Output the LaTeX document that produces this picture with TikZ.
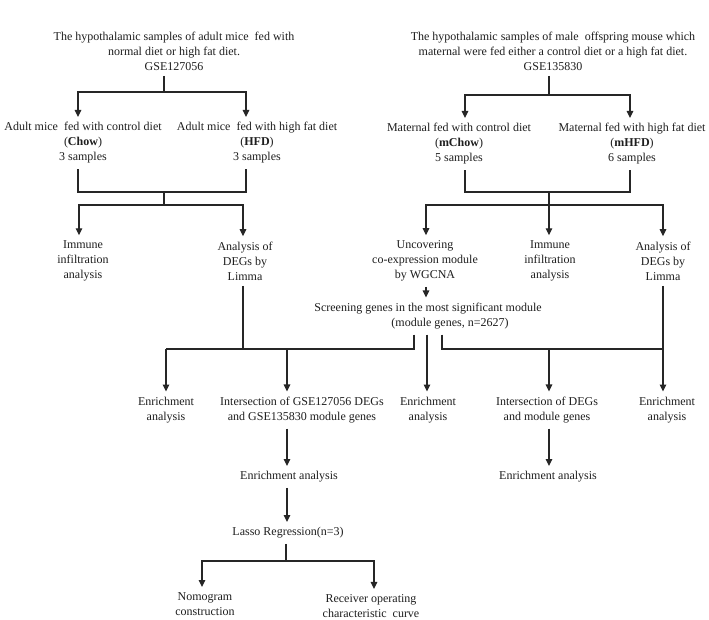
\documentclass[tikz,border=0pt]{standalone}
\usepackage{fontspec}
\setmainfont{Liberation Serif}
\usetikzlibrary{arrows.meta}
\begin{document}
\begin{tikzpicture}[x=1pt,y=-1pt,
  txt/.style={align=center, inner sep=0pt, outer ysep=5.5pt, font=\fontsize{12}{15}\selectfont, text=black!88},
  ln/.style={line width=1.1pt, draw=black!85},
  arr/.style={ln, -{Triangle[width=6.5pt,length=7pt]}}]
\useasboundingbox[fill=white] (0,0) rectangle (709,620);

% ---------- left branch ----------
\node[txt] (top1) at (174,51) {The hypothalamic samples of adult mice~~fed with\\normal diet or high fat diet.\\GSE127056};
\node[txt] (chow) at (83,143) {Adult mice~~fed with control diet\\(\textbf{Chow})\\3 samples};
\node[txt] (hfd) at (257,143) {Adult mice~~fed with high fat diet\\(\textbf{HFD})\\3 samples};
\node[txt] (immL) at (83,261) {Immune\\infiltration\\analysis};
\node[txt] (limL) at (245,261) {Analysis of\\DEGs by\\Limma};

% ---------- right branch ----------
\node[txt] (top2) at (553,51) {The hypothalamic samples of male~~offspring mouse which\\maternal were fed either a control diet or a high fat diet.\\GSE135830};
\node[txt] (mchow) at (459,144) {Maternal fed with control diet\\(\textbf{mChow})\\5 samples};
\node[txt] (mhfd) at (632,144) {Maternal fed with high fat diet\\(\textbf{mHFD})\\6 samples};
\node[txt] (wgcna) at (425,261) {Uncovering\\co-expression module\\by WGCNA};
\node[txt] (immR) at (550,261) {Immune\\infiltration\\analysis};
\node[txt] (limR) at (663,261) {Analysis of\\DEGs by\\Limma};
\node[txt] (screen) at (428,316) {Screening genes in the most significant module\\\hspace*{44pt}(module genes, n=2627)};

% ---------- lower row ----------
\node[txt] (enr1) at (166,410) {Enrichment\\analysis};
\node[txt] (inter1) at (302,410) {Intersection of GSE127056 DEGs\\and GSE135830 module genes};
\node[txt] (enr2) at (428,410) {Enrichment\\analysis};
\node[txt] (inter2) at (547,410) {Intersection of DEGs\\and module genes};
\node[txt] (enr3) at (667,410) {Enrichment\\analysis};
\node[txt] (enrM1) at (289,477) {Enrichment analysis};
\node[txt] (enrM2) at (548,477) {Enrichment analysis};
\node[txt] (lasso) at (288,533) {Lasso Regression(n=3)};
\node[txt] (nomo) at (205,604) {Nomogram\\construction};
\node[txt] (roc) at (371,606) {Receiver operating\\characteristic~~curve};

% ---------- junction coordinates ----------
\coordinate (j1) at (164,92);  \coordinate (b1l) at (78,92);  \coordinate (b1r) at (246,92);
\coordinate (c1) at (164,192); \coordinate (d1) at (164,205);
\coordinate (dl) at (79,205);  \coordinate (dr) at (243,205);
\coordinate (j2) at (549,95);  \coordinate (b2l) at (465,95); \coordinate (b2r) at (630,95);
\coordinate (c2) at (549,192); \coordinate (d2) at (549,205);
\coordinate (d2l) at (426,205); \coordinate (d2r) at (663,205);
\coordinate (sL) at (414,349); \coordinate (sM) at (427,349); \coordinate (sR) at (442,349);
\coordinate (hL) at (166,349); \coordinate (hLm) at (287,349);
\coordinate (hR) at (663,349); \coordinate (hRm) at (549,349);
\coordinate (l0) at (286,561); \coordinate (lL) at (202,561); \coordinate (lR) at (374,561);

% ---------- connectors, left ----------
\draw[ln] (top1.south -| j1) -- (j1);
\draw[arr] (j1) -| (b1l |- chow.north);
\draw[arr] (j1) -| (b1r |- hfd.north);
\draw[ln] (b1l |- chow.south) -- (b1l |- c1) -- (b1r |- c1) -- (b1r |- hfd.south);
\draw[ln] (c1) -- (d1);
\draw[arr] (d1) -| (dl |- immL.north);
\draw[arr] (d1) -| (dr |- limL.north);
\draw[ln] (dr |- limL.south) -- (dr |- hL);

% ---------- connectors, right ----------
\draw[ln] (top2.south -| j2) -- (j2);
\draw[arr] (j2) -| (b2l |- mchow.north);
\draw[arr] (j2) -| (b2r |- mhfd.north);
\draw[ln] (b2l |- mchow.south) -- (b2l |- c2) -- (b2r |- c2) -- (b2r |- mhfd.south);
\draw[ln] (c2) -- (d2);
\draw[arr] (d2) -| (d2l |- wgcna.north);
\draw[arr] (d2) -- (d2 |- immR.north);
\draw[arr] (d2) -| (d2r |- limR.north);
\draw[arr] (d2l |- wgcna.south) -- (d2l |- screen.north);

% ---------- screening to lower row ----------
\draw[ln] (sL |- screen.south) -- (sL) -- (hL);
\draw[arr] (hL) -- (hL |- enr1.north);
\draw[arr] (hLm) -- (hLm |- inter1.north);
\draw[arr] (sM |- screen.south) -- (sM |- enr2.north);
\draw[ln] (sR |- screen.south) -- (sR) -- (hR);
\draw[arr] (hRm) -- (hRm |- inter2.north);
\draw[arr] (d2r |- limR.south) -- (d2r |- enr3.north);

% ---------- lower chain ----------
\draw[arr] (hLm |- inter1.south) -- (hLm |- enrM1.north);
\draw[arr] (hLm |- enrM1.south) -- (hLm |- lasso.north);
\draw[ln] (lasso.south -| l0) -- (l0);
\draw[arr] (l0) -| (lL |- nomo.north);
\draw[arr] (l0) -| (lR |- roc.north);
\draw[arr] (hRm |- inter2.south) -- (hRm |- enrM2.north);
\end{tikzpicture}
\end{document}
